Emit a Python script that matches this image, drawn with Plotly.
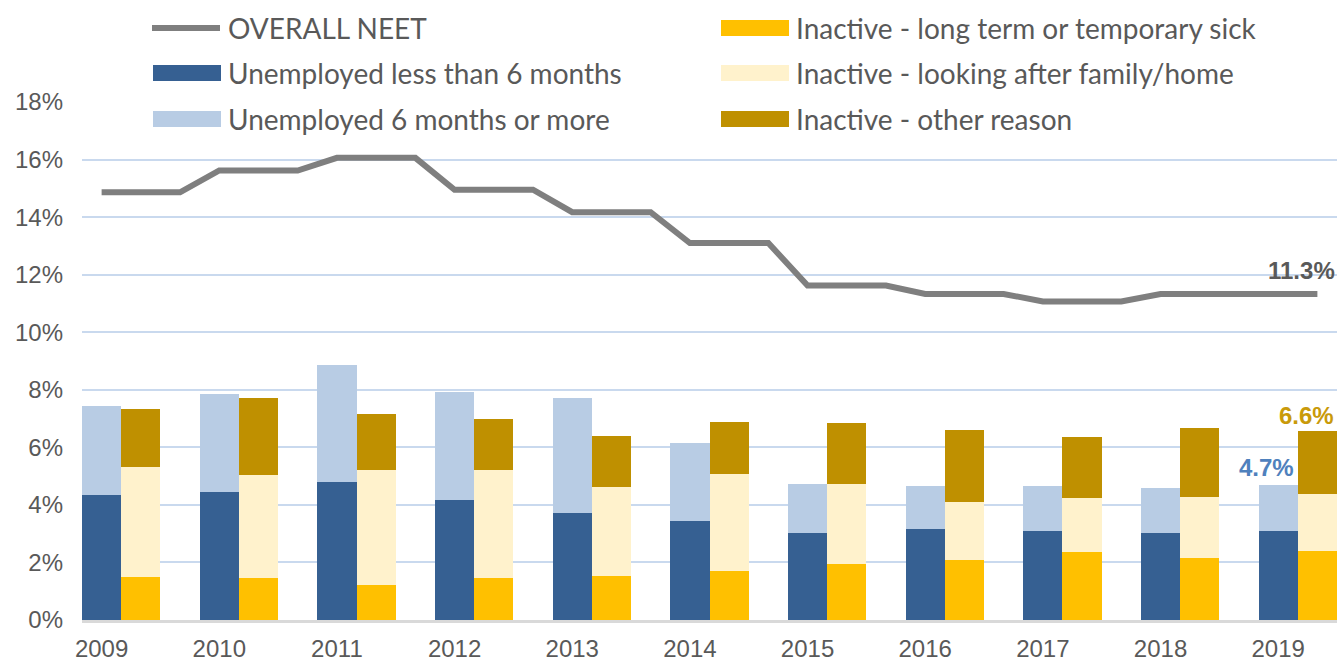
import plotly.graph_objects as go

years = ["2009", "2010", "2011", "2012", "2013", "2014", "2015", "2016", "2017", "2018", "2019"]
neet = [14.86, 15.62, 16.06, 14.95, 14.17, 13.10, 11.62, 11.33, 11.07, 11.33, 11.33]
unemp_short = [4.34, 4.46, 4.79, 4.16, 3.71, 3.45, 3.01, 3.17, 3.08, 3.01, 3.08]
unemp_long = [3.10, 3.40, 4.08, 3.75, 3.99, 2.71, 1.70, 1.49, 1.58, 1.57, 1.62]
inact_sick = [1.50, 1.46, 1.21, 1.46, 1.54, 1.72, 1.96, 2.09, 2.38, 2.17, 2.41]
inact_family = [3.83, 3.58, 4.00, 3.75, 3.09, 3.36, 2.75, 2.01, 1.86, 2.12, 1.96]
inact_other = [2.00, 2.66, 1.96, 1.78, 1.78, 1.79, 2.12, 2.49, 2.13, 2.38, 2.20]

names = ["OVERALL NEET", "Unemployed less than 6 months", "Unemployed 6 months or more",
         "Inactive - long term or temporary sick", "Inactive - looking after family/home",
         "Inactive - other reason"]
colors = ["#7f7f7f", "#366092", "#b8cce4", "#ffc000", "#fff2cc", "#bf9000"]

W, H = 1344, 661
L, R, T, B = 82, 7, 102, 41
TEXT = "#595959"


def px_x(p):
    return (p - L) / (W - L - R)


def px_y(p):
    return (H - B - p) / (H - T - B)


pos = list(range(len(years)))
inact_pos = [p + 1 / 3 for p in pos]

# overall line drawn flat across each year's pair of bars
line_x, line_y = [], []
for p, v in zip(pos, neet):
    for k in range(3):
        line_x.append(p + k / 3)
        line_y.append(v)
line_x, line_y = line_x[:-1], line_y[:-1]

fig = go.Figure()
bar_sets = [(pos, unemp_short, 1), (pos, unemp_long, 2),
            (inact_pos, inact_sick, 3), (inact_pos, inact_family, 4), (inact_pos, inact_other, 5)]
for xs, ys, i in bar_sets:
    fig.add_trace(go.Bar(x=xs, y=ys, width=1 / 3, name=names[i],
                         marker=dict(color=colors[i], line=dict(width=0))))
fig.add_trace(go.Scatter(x=line_x, y=line_y, mode="lines", name=names[0],
                         line=dict(color=colors[0], width=6)))

unemp_total = [a + b for a, b in zip(unemp_short, unemp_long)]
inact_total = [a + b + c for a, b, c in zip(inact_sick, inact_family, inact_other)]

annotations = [
    dict(x=line_x[-1], y=line_y[-1], text=f"<b>{neet[-1]:.1f}%</b>", showarrow=False,
         xanchor="right", yanchor="bottom", xshift=20, yshift=8,
         font=dict(family="Liberation Sans", size=24, color=TEXT)),
    dict(x=pos[-1], y=unemp_total[-1], text=f"<b>{unemp_total[-1]:.1f}%</b>", showarrow=False,
         xanchor="center", yanchor="bottom", xshift=-12, yshift=2,
         font=dict(family="Liberation Sans", size=24, color="#4f81bd")),
    dict(x=inact_pos[-1], y=inact_total[-1], text=f"<b>{inact_total[-1]:.1f}%</b>", showarrow=False,
         xanchor="right", yanchor="bottom", xshift=19, yshift=0,
         font=dict(family="Liberation Sans", size=24, color="#c99a0a")),
]

# legend drawn by hand in two columns, with a white box behind it
shapes = [dict(type="rect", xref="paper", yref="paper", layer="above",
               x0=px_x(134), x1=px_x(1150), y0=px_y(0), y1=px_y(138),
               fillcolor="white", line=dict(width=0))]
cols = [150, 718]
rows = [28, 73, 119]
for i, name in enumerate(names):
    cx = cols[i // 3]
    cy = rows[i % 3]
    if i == 0:
        shapes.append(dict(type="line", xref="paper", yref="paper", layer="above",
                           x0=px_x(cx + 2), x1=px_x(cx + 70), y0=px_y(cy), y1=px_y(cy),
                           line=dict(color=colors[i], width=6)))
    else:
        shapes.append(dict(type="rect", xref="paper", yref="paper", layer="above",
                           x0=px_x(cx + 3), x1=px_x(cx + 71), y0=px_y(cy - 8), y1=px_y(cy + 8),
                           fillcolor=colors[i], line=dict(width=0)))
    annotations.append(dict(x=px_x(cx + 76), y=px_y(cy), xref="paper", yref="paper",
                            text=name, showarrow=False, xanchor="left", yanchor="middle",
                            font=dict(family="Lato", size=28, color=TEXT)))

fig.update_layout(
    width=W, height=H,
    barmode="stack",
    showlegend=False,
    plot_bgcolor="white",
    paper_bgcolor="white",
    margin=dict(l=L, r=R, t=T, b=B),
    shapes=shapes,
    annotations=annotations,
    xaxis=dict(range=[-1 / 6, 10.5], tickvals=pos, ticktext=years, showgrid=False,
               zeroline=False, showline=True, linecolor="#d9d9d9", linewidth=2.5,
               ticks="", tickfont=dict(family="Liberation Sans", size=24, color=TEXT),
               ticklabelstandoff=5, automargin=False),
    yaxis=dict(range=[0, 18], dtick=2, ticksuffix="%", showgrid=True,
               gridcolor="#c9d9ee", gridwidth=2, zeroline=False, showline=False,
               tickfont=dict(family="Liberation Sans", size=24, color=TEXT),
               ticklabelstandoff=18, automargin=False),
)

fig.write_html("out.html", config={"displayModeBar": False},
               post_script="document.body.style.margin='0';")
